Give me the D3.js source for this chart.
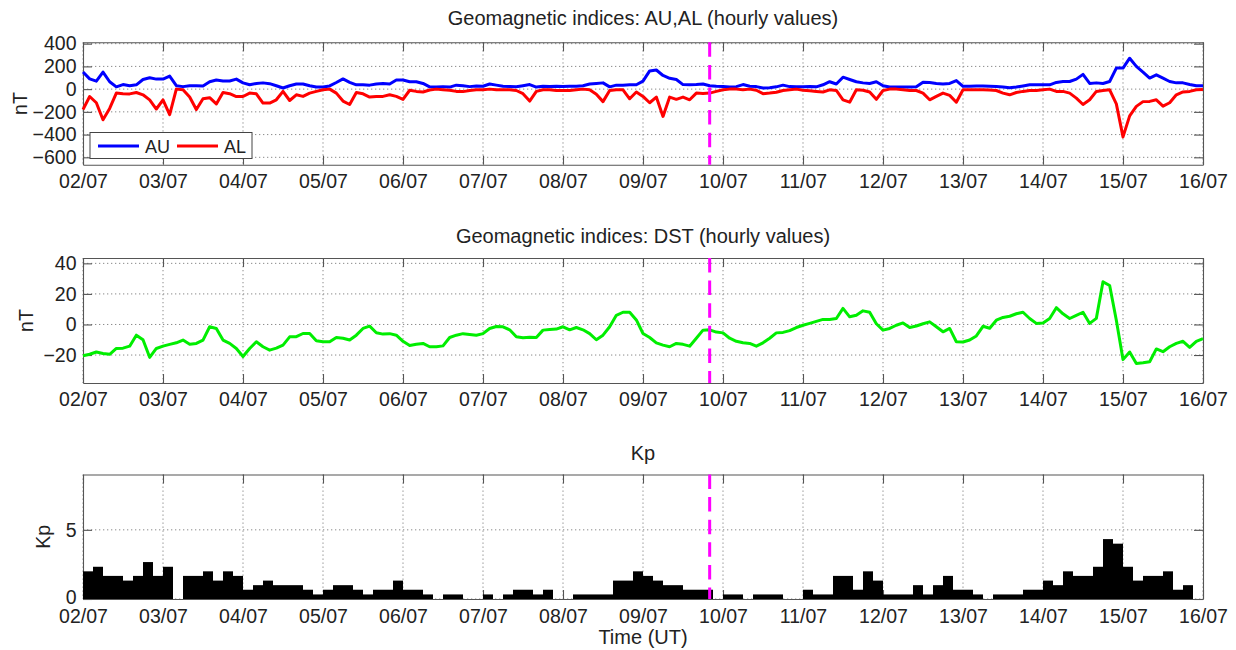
<!DOCTYPE html>
<html>
<head>
<meta charset="utf-8">
<script src="https://cdn.jsdelivr.net/npm/d3@7"></script>
<style>
  body { margin: 0; background: #fff; }
  svg { display: block; }
  text { font-family: "Liberation Sans", Arial, Helvetica, sans-serif; fill: #222; }
</style>
</head>
<body>
<svg id="fig" width="1236" height="650"></svg>
<script>
// ---- Data -------------------------------------------------------------
// Day tick labels (dd/mm), one per 24 h from the start of the interval
const dayLabels = ["02/07","03/07","04/07","05/07","06/07","07/07","08/07",
                   "09/07","10/07","11/07","12/07","13/07","14/07","15/07","16/07"];

// AU / AL / DST sampled every 2 hours from 02/07 00:00 UT to 16/07 00:00 UT (nT)
const sampleStepHours = 2;

const auValues = [
  150, 90, 70, 150, 65, 20, 40, 30, 38, 85, 100, 88,
  88, 115, 30, 22, 30, 30, 28, 65, 80, 72, 72, 88,
  55, 38, 50, 55, 48, 30, 10, 30, 45, 45, 30, 18,
  18, 28, 58, 90, 60, 38, 38, 35, 45, 50, 45, 80,
  80, 65, 65, 50, 20, 18, 22, 18, 35, 30, 22, 28,
  25, 45, 35, 25, 22, 20, 30, 40, 18, 25, 22, 25,
  22, 25, 25, 30, 45, 50, 55, 20, 35, 35, 38, 38,
  70, 160, 168, 120, 95, 85, 40, 38, 40, 45, 30, 25,
  22, 18, 22, 40, 25, 22, 10, 12, 20, 35, 22, 20,
  20, 22, 20, 38, 65, 45, 105, 85, 65, 55, 50, 65,
  30, 18, 18, 18, 18, 20, 60, 58, 50, 45, 50, 75,
  25, 25, 28, 28, 25, 22, 18, 12, 18, 28, 38, 38,
  38, 38, 59, 67, 67, 88, 130, 50, 55, 50, 67, 185,
  185, 272, 200, 150, 97, 126, 97, 67, 55, 55, 40, 29,
  29
];

const alValues = [
  -180, -65, -120, -270, -170, -35, -40, -42, -30, -50, -95, -175,
  -95, -225, 0, -5, -70, -180, -85, -75, -130, -30, -40, -65,
  -65, -35, -41, -123, -123, -94, -20, -100, -50, -64, -35, -20,
  -6, 0, -35, -105, -135, -30, -41, -70, -64, -64, -50, -64,
  -90, -10, -20, -25, -8, 0, -5, -10, -20, -22, -12, -6,
  -6, 0, -5, -6, -6, -12, -40, -105, -20, -6, -6, -12,
  -12, -12, -6, 0, -6, -45, -110, -12, -6, -6, -85, -25,
  -64, -120, -70, -240, -70, -90, -70, -94, -35, -38, -35, -20,
  -6, 0, 0, -6, 0, -10, -40, -35, -28, -12, -6, 0,
  -10, -15, -20, -25, -6, -12, -95, -115, -6, -10, -25, -90,
  -12, 0, 0, -6, -12, -12, -35, -94, -64, -35, -55, -115,
  -5, -6, -6, -6, -8, -12, -35, -50, -30, -20, -12, -12,
  -6, 0, -20, -20, -35, -79, -135, -94, -20, -12, -6, -130,
  -420, -235, -152, -110, -108, -94, -150, -120, -50, -25, -20, -6,
  -3
];

const dstValues = [
  -20.5, -19.5, -18, -19, -19.5, -15.7, -15.5, -14.2, -7, -10, -21.5, -15.7,
  -14.2, -13, -12, -10.2, -12.9, -12.4, -10.2, -1.5, -2.6, -10.2, -12.4, -15.7,
  -21, -15.7, -11.3, -14.6, -16.8, -15.5, -13.5, -8.1, -8, -5.9, -5.9, -10.7,
  -11.3, -11.3, -8.5, -9, -10.2, -7, -2.6, -1.1, -5.4, -6.3, -6, -7,
  -11, -13.8, -13, -12.4, -14.6, -14.6, -14, -8.5, -7, -6, -6.5, -7,
  -6, -2.6, -1.3, -1.5, -3.5, -8, -8.7, -8.3, -8.5, -3.7, -3.3, -3,
  -1.5, -3.5, -2, -3.5, -6, -10, -7, -1.5, 6, 8, 8, 3,
  -5.9, -8.5, -12, -13.5, -14.6, -12.4, -13, -14.2, -9, -3.7, -3.5, -5,
  -5.5, -9, -11, -12, -12.4, -14.2, -12, -9, -5.5, -5.2, -4, -2,
  -0.5, 0.7, 2, 3.3, 3.3, 3.9, 10.5, 5, 6, 8.9, 8, 0.5,
  -3.7, -2.6, -0.5, 1, -2, -1, 0.5, 1.7, -1.5, -4.8, -2.6, -11.3,
  -11.5, -10.2, -7.5, -1.2, -2.5, 2.8, 4.6, 5.4, 7, 8, 3.9, 0.7,
  1, 3.9, 11, 7, 3.9, 6, 8, 0.7, 4, 27.9, 25.5, 2.8,
  -23, -18, -25.5, -25, -24.4, -16, -17.8, -14.6, -12.4, -11, -15, -11,
  -9.2
];

// Kp, 3-hourly (8 values per day)
const kpStepHours = 3;
const kpValues = [
  2, 2.33, 1.67, 1.67, 1.33, 1.67, 2.67, 1.67,
  2.33, 0, 1.67, 1.67, 2, 1.33, 2, 1.67,
  0.67, 1, 1.33, 1, 1, 1, 0.67, 0.33,
  0.67, 1, 1, 0.67, 0.33, 0.67, 0.67, 1.33,
  0.67, 0.67, 0.33, 0, 0.33, 0.33, 0, 0,
  0.33, 0, 0.33, 0.67, 0.67, 0.33, 0.67, 0,
  0, 0.33, 0.33, 0.33, 0.33, 1.33, 1.33, 2,
  1.67, 1.33, 1, 1, 0.67, 0.67, 0.67, 0,
  0.33, 0.33, 0, 0.33, 0.33, 0.33, 0, 0,
  0.67, 0.33, 0.33, 1.67, 1.67, 0.67, 2, 1.33,
  0.33, 0.33, 0.33, 1, 0.33, 1, 1.67, 0.67,
  0.67, 0.33, 0, 0.33, 0.33, 0.33, 0.67, 0.67,
  1.33, 1, 2, 1.67, 1.67, 2.33, 4.33, 4,
  2.33, 1.33, 1.67, 1.67, 2, 0.67, 1, 0
];

// Marked event time: 09/07 20:00 UT (hours from start)
const eventHour = 7 * 24 + 20;

// Y tick values per panel
const auAlTicks = [-600, -400, -200, 0, 200, 400];
const dstTicks = [-20, 0, 20, 40];
const kpTicks = [0, 5];

// ---- Layout -----------------------------------------------------------
const svg = d3.select("#fig");
const X0 = 83, X1 = 1203;
const totalHours = (dayLabels.length - 1) * 24;
const x = d3.scaleLinear().domain([0, totalHours]).range([X0, X1]);
const dayHours = dayLabels.map((_, i) => i * 24);

const FONT = 19.5;
const TITLE_FONT = 20;
const AXIS_COLOR = "#555";
const TICK = 9;

function drawPanel(cfg) {
  const g = svg.append("g");
  const y = d3.scaleLinear().domain(cfg.yDomain).range([cfg.bottom, cfg.top]);

  // dotted grid
  const grid = g.append("g")
    .attr("stroke", "#8a8a8a").attr("stroke-width", 1)
    .attr("stroke-dasharray", "1.3,2.7");
  grid.selectAll("line.gx").data(dayHours).join("line").attr("class", "gx")
    .attr("x1", d => x(d)).attr("x2", d => x(d))
    .attr("y1", cfg.top).attr("y2", cfg.bottom);
  grid.selectAll("line.gy").data(cfg.ticks).join("line").attr("class", "gy")
    .attr("x1", X0).attr("x2", X1)
    .attr("y1", d => y(d)).attr("y2", d => y(d));

  // axes on all four sides, ticks pointing inward
  const styleAxis = sel => {
    sel.selectAll("path.domain").attr("stroke", AXIS_COLOR).attr("stroke-width", 1.1);
    sel.selectAll(".tick line").attr("stroke", AXIS_COLOR).attr("stroke-width", 1.1);
    sel.selectAll("text").attr("font-size", FONT)
      .attr("font-family", '"Liberation Sans", Arial, sans-serif').attr("fill", "#222");
    sel.attr("font-family", null).attr("font-size", null);
  };

  g.append("g").attr("transform", `translate(0,${cfg.bottom})`)
    .call(d3.axisBottom(x).tickValues(dayHours).tickFormat((d, i) => dayLabels[i])
      .tickSizeInner(-TICK).tickSizeOuter(0).tickPadding(cfg.xPad || 9.5))
    .call(styleAxis);
  g.append("g").attr("transform", `translate(0,${cfg.top})`)
    .call(d3.axisTop(x).tickValues(dayHours).tickFormat("")
      .tickSizeInner(-TICK).tickSizeOuter(0))
    .call(styleAxis);
  const left = g.append("g").attr("transform", `translate(${X0},0)`)
    .call(d3.axisLeft(y).tickValues(cfg.ticks).tickFormat(d3.format("d"))
      .tickSizeInner(-TICK).tickSizeOuter(0).tickPadding(6.5))
    .call(styleAxis);
  if (cfg.lowLabelShift) {
    // lift the bottom y label a little so it sits just above the date labels
    left.selectAll(".tick text").filter(d => d === cfg.yDomain[0])
      .attr("y", -cfg.lowLabelShift);
  }
  g.append("g").attr("transform", `translate(${X1},0)`)
    .call(d3.axisRight(y).tickValues(cfg.ticks).tickFormat("")
      .tickSizeInner(-TICK).tickSizeOuter(0))
    .call(styleAxis);

  // title and y label
  g.append("text").attr("x", (X0 + X1) / 2).attr("y", cfg.titleY)
    .attr("text-anchor", "middle").attr("font-size", TITLE_FONT).text(cfg.title);
  g.append("text")
    .attr("transform", `translate(${cfg.ylabelX},${(cfg.top + cfg.bottom) / 2}) rotate(-90)`)
    .attr("text-anchor", "middle").attr("font-size", FONT).text(cfg.ylabel);

  // data layer
  const data = g.append("g");
  cfg.draw(data, y);

  // event marker
  g.append("line")
    .attr("x1", x(eventHour)).attr("x2", x(eventHour))
    .attr("y1", cfg.top).attr("y2", cfg.bottom)
    .attr("stroke", "#ff00ff").attr("stroke-width", 3)
    .attr("stroke-dasharray", "14.5,8.1");
  return { g, y };
}

const seriesLine = y => d3.line()
  .x((d, i) => x(i * sampleStepHours))
  .y(d => y(d));

// Panel 1: AU, AL
drawPanel({
  top: 42.3, bottom: 164.7, yDomain: [-665, 412], ticks: auAlTicks,
  title: "Geomagnetic indices: AU,AL (hourly values)", titleY: 25,
  ylabel: "nT", ylabelX: 27,
  draw: (g, y) => {
    g.append("path").datum(auValues).attr("d", seriesLine(y))
      .attr("fill", "none").attr("stroke", "#0000ff").attr("stroke-width", 3)
      .attr("stroke-linejoin", "round");
    g.append("path").datum(alValues).attr("d", seriesLine(y))
      .attr("fill", "none").attr("stroke", "#ff0000").attr("stroke-width", 3)
      .attr("stroke-linejoin", "round");
  }
});

// legend for panel 1
const legend = svg.append("g");
legend.append("rect").attr("x", 90).attr("y", 132.5).attr("width", 162).attr("height", 26)
  .attr("fill", "#fff").attr("stroke", "#444").attr("stroke-width", 1);
const legendItems = [
  { name: "AU", color: "#0000ff", x: 98 },
  { name: "AL", color: "#ff0000", x: 177 }
];
legend.selectAll("g.item").data(legendItems).join("g").attr("class", "item")
  .each(function (d) {
    const it = d3.select(this);
    it.append("line").attr("x1", d.x).attr("x2", d.x + 41).attr("y1", 146).attr("y2", 146)
      .attr("stroke", d.color).attr("stroke-width", 3);
    it.append("text").attr("x", d.x + 47).attr("y", 152.5).attr("font-size", 18).text(d.name);
  });

// Panel 2: DST
drawPanel({
  top: 258, bottom: 383, yDomain: [-38.3, 43.5], ticks: dstTicks,
  title: "Geomagnetic indices: DST (hourly values)", titleY: 243,
  ylabel: "nT", ylabelX: 33,
  draw: (g, y) => {
    g.append("path").datum(dstValues).attr("d", seriesLine(y))
      .attr("fill", "none").attr("stroke", "#00ee00").attr("stroke-width", 3)
      .attr("stroke-linejoin", "round");
  }
});

// Panel 3: Kp
drawPanel({
  top: 474.5, bottom: 599, yDomain: [0, 9], ticks: kpTicks,
  title: "Kp", titleY: 459.5,
  ylabel: "Kp", ylabelX: 50,
  xPad: 10.5, lowLabelShift: 2,
  draw: (g, y) => {
    g.selectAll("rect").data(kpValues).join("rect")
      .attr("x", (d, i) => x(i * kpStepHours))
      .attr("width", x(kpStepHours) - x(0))
      .attr("y", d => y(d))
      .attr("height", d => y(0) - y(d))
      .attr("fill", "#000");
  }
});

svg.append("text").attr("x", (X0 + X1) / 2).attr("y", 644)
  .attr("text-anchor", "middle").attr("font-size", TITLE_FONT).text("Time (UT)");
</script>
</body>
</html>
